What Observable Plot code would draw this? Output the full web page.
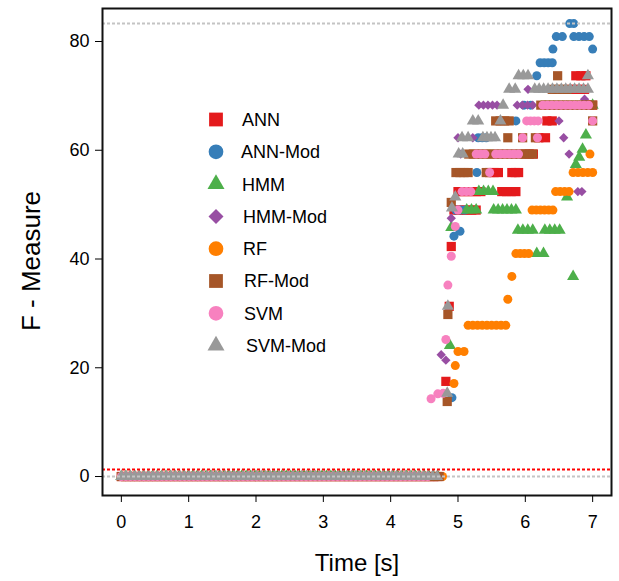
<!DOCTYPE html>
<html><head><meta charset="utf-8">
<script src="https://cdn.jsdelivr.net/npm/d3@7"></script>
<script src="https://cdn.jsdelivr.net/npm/@observablehq/plot@0.6"></script>
<style>
html,body{margin:0;padding:0;background:#fff;}
#chart svg{display:block;}
</style></head><body><div id="chart"></div>
<script>
// ---- data ----
const models  = ["ANN","ANN-Mod","HMM","HMM-Mod","RF","RF-Mod","SVM","SVM-Mod"];
const colors  = ["#E41A1C","#377EB8","#4DAF4A","#984EA3","#FF7F00","#A65628","#F781BF","#999999"];
const symbols = ["square","circle","triangle","diamond2","circle","square","circle","triangle"];
const xTicks = [0,1,2,3,4,5,6,7];
const yTicks = [0,20,40,60,80];
const bestLine = [83.3];
const zeroLine = [0];
const thresholdLine = [1.3];
const frameStep = 1/15; // sampling interval [s]

// runs of constant F-measure: [start time, end time, value]
const runsANN = [[0,4.7,0],[4.82,4.82,17.5],[4.87,4.87,31.3],[4.9,4.9,42.3],[4.94,5.27,49.0],[5.0,5.34,52.4],[5.65,5.86,52.4],
  [5.47,5.6,55.9],[5.8,5.9,55.9],[6.0,6.12,59.3],[6.2,6.3,62.3],[6.32,6.4,65.4],[6.95,7.0,68.3],[6.68,6.88,71.2],[6.75,6.9,73.7]];
const runsANNMod = [[0,4.7,0],[4.91,4.91,14.5],[4.94,4.94,44.2],[5.03,5.03,45.1],[4.97,5.1,49.0],[5.28,5.28,55.9],[5.3,5.42,62.3],
  [5.86,5.86,65.4],[5.98,6.08,68.3],[6.17,6.17,73.7],[6.22,6.4,76.1],[6.41,6.41,78.6],[7.0,7.0,78.6],[6.46,6.55,80.9],[6.72,6.95,80.9],[6.66,6.72,83.3]];
const runsHMM = [[0,4.7,0],[4.88,4.88,24.1],[4.9,4.9,45.8],[5.13,5.27,49.0],[5.53,5.86,49.0],[5.31,5.52,52.4],[5.89,6.11,45.3],[6.29,6.51,45.3],
  [6.17,6.27,41.0],[6.71,6.71,36.8],[6.62,6.62,51.4],[6.75,6.75,57.4],[6.8,6.8,58.7],[6.85,6.85,60.2],[6.9,6.9,62.8],[7.0,7.0,68.3]];
const runsHMMMod = [[0,4.7,0],[4.75,4.75,22.4],[4.82,4.82,21.4],[4.9,4.9,47.5],[5.0,5.0,62.3],[5.22,5.22,62.3],[5.04,5.04,59.3],[5.31,5.58,68.3],
  [5.88,6.11,68.3],[6.04,6.04,71.2],[6.5,6.5,65.4],[6.57,6.57,62.3],[6.65,6.65,59.3],[6.78,6.84,52.4],[6.88,6.88,69.4]];
const runsRF = [[0,4.77,0],[4.94,4.94,17.1],[4.96,4.96,20.4],[5.0,5.09,23.0],[5.15,5.71,27.8],[5.74,5.74,32.6],[5.8,5.8,36.8],[5.86,6.05,41.0],
  [6.1,6.41,49.0],[6.45,6.65,52.4],[6.71,7.0,55.9],[6.96,6.96,59.3]];
const runsRFMod = [[0,4.72,0],[4.84,4.84,13.8],[4.85,4.85,29.8],[4.9,4.9,50.4],[4.97,5.15,55.9],[5.42,5.42,55.9],[5.16,6.11,59.3],[5.74,5.74,62.3],
  [5.96,5.96,62.3],[6.15,6.15,62.3],[5.56,5.76,65.4],[7.0,7.0,65.4],[6.23,7.0,68.3],[6.4,6.62,71.2],[6.48,6.48,73.7]];
const runsSVM = [[0,4.55,0],[4.6,4.6,14.3],[4.7,4.7,15.2],[4.78,4.78,15.3],[4.82,4.82,25.2],[4.85,4.85,35.2],[4.9,4.9,40.5],[4.96,4.96,46.0],
  [5.0,5.0,49.0],[5.06,5.19,52.4],[5.47,5.47,55.9],[5.27,5.4,59.3],[5.56,5.9,59.3],[5.96,5.96,62.3],[6.18,6.18,62.3],[6.02,6.19,65.4],[7.0,7.0,65.4],[6.26,6.94,68.3]];
const runsSVMMod = [[0,4.69,0],[4.84,4.84,15.3],[4.85,4.85,31.3],[4.91,4.91,49.4],[4.96,4.96,51.4],[5.01,5.07,59.3],[5.06,5.15,62.3],[5.37,5.55,62.3],
  [5.22,5.3,65.4],[5.63,5.63,65.4],[5.67,5.67,68.3],[5.76,5.85,71.2],[6.14,6.93,71.2],[5.9,6.04,73.7],[6.93,6.93,73.7]];
const allRuns = [runsANN,runsANNMod,runsHMM,runsHMMMod,runsRF,runsRFMod,runsSVM,runsSVMMod];

// ---- styling ----
const FONT = "'Liberation Sans', Arial, Helvetica, sans-serif";
const dotR = {square: 5.2, circle: 4.5, triangle: 4.5, diamond2: 4.2};
const legendArea = {square: 190, circle: 170, triangle: 125, diamond2: 144};
const d3Sym = {square: d3.symbolSquare, circle: d3.symbolCircle, triangle: d3.symbolTriangle, diamond2: d3.symbolDiamond2};
const legendLayout = {symX: 216, top: 119.5, step: 32.3, textX: [242,241,242,243,243,244,244,246]};

// expand runs into frame samples
function samples(runs, model) {
  const out = [];
  for (const [a, b, v] of runs) {
    const n = Math.max(0, Math.round((b - a) / frameStep));
    for (let i = 0; i <= n; i++) out.push({model, t: n ? a + i * (b - a) / n : a, f: v});
  }
  return out;
}

const dotMarks = models.map((m, i) =>
  Plot.dot(samples(allRuns[i], m), {x: "t", y: "f", symbol: () => symbols[i], fill: colors[i], stroke: "none", r: dotR[symbols[i]]})
);

const legend = () => {
  const g = d3.create("svg:g").attr("font-family", FONT).attr("text-anchor", "start");
  models.forEach((m, i) => {
    const y = legendLayout.top + i * legendLayout.step;
    g.append("path")
      .attr("d", d3.symbol(d3Sym[symbols[i]], legendArea[symbols[i]])())
      .attr("transform", `translate(${legendLayout.symX},${y})`)
      .attr("fill", colors[i]);
    g.append("text").attr("x", legendLayout.textX[i]).attr("y", y).attr("dy", "0.36em")
      .attr("font-size", 18).attr("fill", "#000").text(m);
  });
  return g.node();
};

const chart = Plot.plot({
  width: 619, height: 581,
  marginLeft: 102, marginRight: 8, marginTop: 8, marginBottom: 86,
  style: {fontFamily: FONT, background: "#fff", color: "#000"},
  x: {domain: [-0.28, 7.28]},
  y: {domain: [-3.49, 86.07]},
  symbol: {type: "identity"},
  marks: [
    ...dotMarks,
    Plot.ruleY(bestLine, {stroke: "#c4c4c4", strokeWidth: 2, strokeDasharray: "3,2"}),
    Plot.ruleY(zeroLine, {stroke: "#c4c4c4", strokeWidth: 2, strokeDasharray: "3,2"}),
    Plot.ruleY(thresholdLine, {stroke: "#ff0000", strokeWidth: 2, strokeDasharray: "3,2"}),
    legend,
    Plot.frame({stroke: "#111", strokeWidth: 2}),
    Plot.axisX(xTicks, {tickSize: 7, tickPadding: 13, fontSize: 18, label: null}),
    Plot.axisY(yTicks, {tickSize: 7, tickPadding: 6, fontSize: 18, label: null}),
    Plot.text(["Time [s]"], {frameAnchor: "bottom", dy: 75, fontSize: 24, fill: "#000"}),
    Plot.text(["F - Measure"], {frameAnchor: "left", textAnchor: "middle", rotate: -90, dx: -71, dy: 9, fontSize: 26, fill: "#000"})
  ]
});
document.getElementById("chart").append(chart);
</script></body></html>
